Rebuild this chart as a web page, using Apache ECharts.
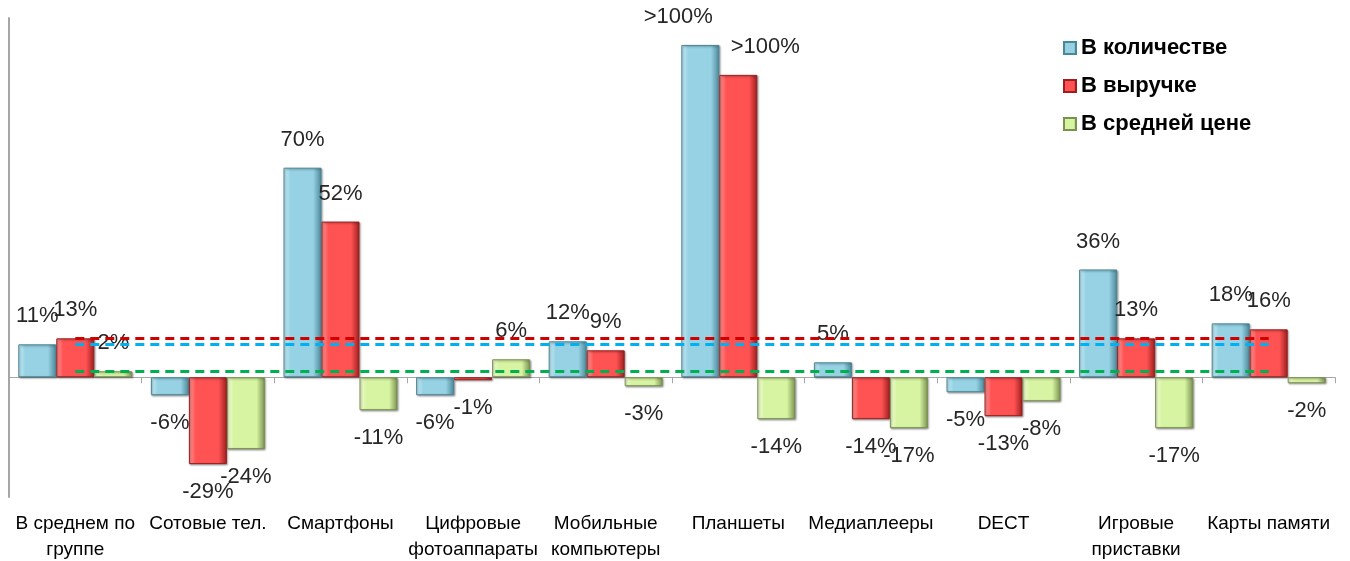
<!DOCTYPE html>
<html>
<head>
<meta charset="utf-8">
<script src="https://cdn.jsdelivr.net/npm/echarts@6/dist/echarts.min.js"></script>
<style>
  html, body { margin: 0; padding: 0; background: #fff; }
  #chart { width: 1350px; height: 561px; }
</style>
</head>
<body>
<div id="chart"></div>
<script>
const categories = ['В среднем по\nгруппе', 'Сотовые тел.', 'Смартфоны', 'Цифровые\nфотоаппараты', 'Мобильные\nкомпьютеры',
    'Планшеты', 'Медиаплееры', 'DECT', 'Игровые\nприставки', 'Карты памяти'];
const seriesNames = ['В количестве', 'В выручке', 'В средней цене'];
// >100% bars drawn at their visible height
const qtyValues = [11, -6, 70, -6, 12, 111, 5, -5, 36, 18];
const revenueValues = [13, -29, 52, -1, 9, 101, -14, -13, 13, 16];
const priceValues = [2, -24, -11, 6, -3, -14, -17, -8, -17, -2];

const FONT = '"Liberation Sans", Arial, sans-serif';

// face, light edge, dark edge, colour of the group-average dashed line
const palette = [
    { face: '#96d2e3', light: '#cdf0fa', dark: '#4a8798', line: '#00b0f0', over: -22 },
    { face: '#ff5252', light: '#ff9c9c', dark: '#9c1e1e', line: '#d00000', over: 27 },
    { face: '#d6f4a2', light: '#f6ffdc', dark: '#7a9150', line: '#00b050', over: 0 }
];

function bevel(p) {
    return {
        type: 'linear', x: 0, y: 0, x2: 1, y2: 0,
        colorStops: [
            { offset: 0, color: p.light },
            { offset: 0.18, color: p.face },
            { offset: 0.78, color: p.face },
            { offset: 1, color: p.dark }
        ]
    };
}

function buildSeries(name, values, p) {
    return {
        name: name,
        type: 'bar',
        xAxisIndex: 0,
        barWidth: 38,
        barGap: '0%',
        itemStyle: {
            color: bevel(p), borderColor: p.dark, borderWidth: 1,
            shadowColor: 'rgba(0,0,0,0.35)', shadowBlur: 2, shadowOffsetX: 1, shadowOffsetY: 1
        },
        label: {
            show: true,
            position: 'top',
            distance: 17,
            fontFamily: FONT,
            fontSize: 22,
            color: '#262626',
            formatter: function (d) { return d.value > 100 ? '>100%' : d.value + '%'; }
        },
        data: values.map(function (v) {
            if (v < 0) return { value: v, label: { position: 'bottom' } };
            if (v > 100) return { value: v, label: { offset: [p.over, 0] } };
            return v;
        })
    };
}

function avgLine(values, p) {
    return [
        { coord: [categories[0], values[0]], lineStyle: { color: p.line } },
        { coord: [categories[categories.length - 1], values[0]] }
    ];
}

var chart = echarts.init(document.getElementById('chart'));

var option = {
    animation: false,
    grid: { left: 9, right: 15, top: 18, bottom: 64, outerBoundsMode: 'none' },
    legend: {
        orient: 'vertical',
        left: 1058,
        top: 32,
        itemWidth: 12,
        itemHeight: 12,
        itemGap: 16,
        icon: 'rect',
        textStyle: { fontFamily: FONT, fontSize: 22, fontWeight: 'bold', color: '#000' },
        data: seriesNames
    },
    xAxis: [
        {
            type: 'category',
            data: categories,
            axisLine: { onZero: true, lineStyle: { color: '#a6a6a6', width: 1 } },
            axisTick: { show: true, length: 6, lineStyle: { color: '#a6a6a6' } },
            axisLabel: { show: false }
        },
        {
            type: 'category',
            position: 'bottom',
            data: categories,
            axisLine: { show: false, onZero: false },
            axisTick: { show: false },
            axisLabel: {
                margin: 14,
                interval: 0,
                fontFamily: FONT,
                fontSize: 19,
                lineHeight: 26,
                color: '#000'
            }
        }
    ],
    yAxis: {
        type: 'value',
        min: -40,
        max: 120,
        splitLine: { show: false },
        axisLabel: { show: false },
        axisTick: { show: false },
        axisLine: { show: true, lineStyle: { color: '#a6a6a6', width: 2 } }
    },
    series: [
        buildSeries(seriesNames[0], qtyValues, palette[0]),
        buildSeries(seriesNames[1], revenueValues, palette[1]),
        buildSeries(seriesNames[2], priceValues, palette[2]),
        {
            name: 'avg',
            type: 'line',
            xAxisIndex: 0,
            data: [],
            markLine: {
                silent: true,
                symbol: 'none',
                label: { show: false },
                lineStyle: { type: [9, 6], width: 3 },
                data: [
                    avgLine(revenueValues, palette[1]),
                    avgLine(qtyValues, palette[0]),
                    avgLine(priceValues, palette[2])
                ]
            }
        }
    ]
};

chart.setOption(option);
</script>
</body>
</html>
